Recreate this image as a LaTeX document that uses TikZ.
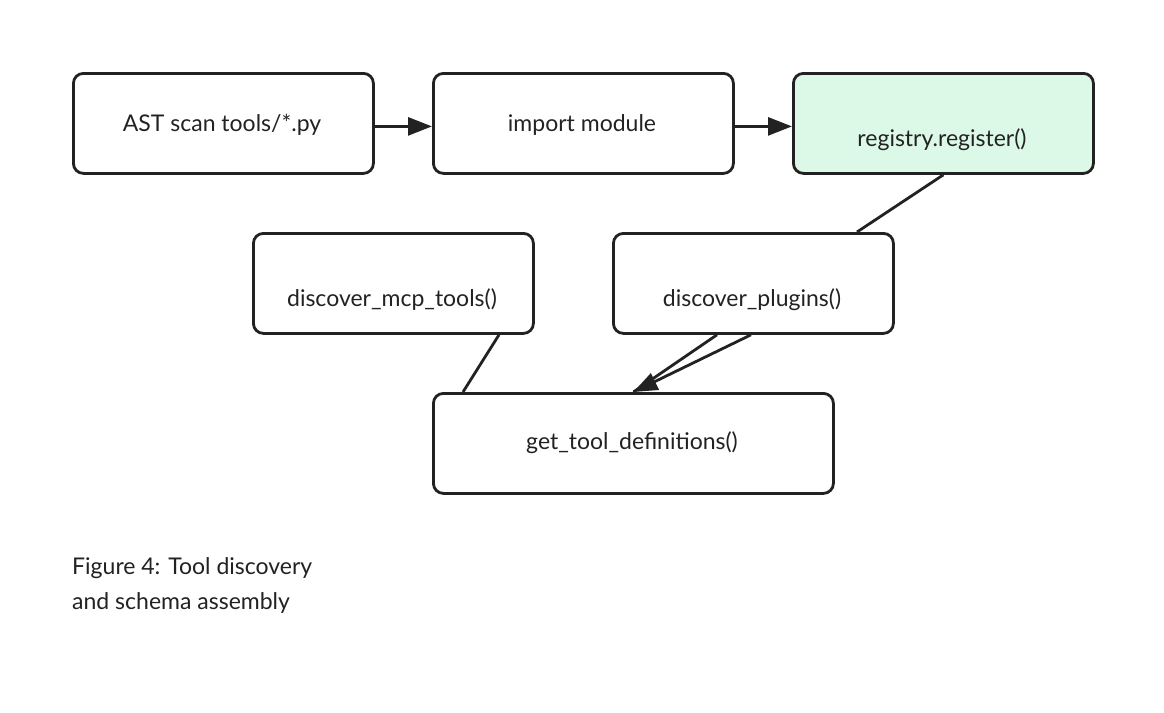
\documentclass[tikz,border=0pt]{standalone}
\usepackage{fontspec}
\setmainfont{Lato}
\usetikzlibrary{arrows.meta,calc}
\definecolor{edge}{HTML}{222222}
\definecolor{mint}{HTML}{DCF8E7}
\begin{document}
\begin{tikzpicture}[x=1pt,y=-1pt,
  box/.style={draw=edge,line width=2.8pt,rounded corners=10pt,minimum width=#1,minimum height=100pt,inner sep=0pt,anchor=north west},
  box/.default=300pt,
  lbl/.style={font=\fontsize{23}{27}\selectfont,text=edge,inner sep=0pt},
  conn/.style={draw=edge,line width=2.8pt},
  arr/.style={conn,-{Triangle[length=24pt,width=18pt]}}]
\useasboundingbox (0,0) rectangle (1164,712);
\node[box] (A) at (72,72) {};
\node[box] (B) at (432,72) {};
\node[box,fill=mint] (C) at (792,72) {};
\node[box=280pt] (D) at (252,232) {};
\node[box=280pt] (E) at (612,232) {};
\node[box=400pt] (F) at (432,392) {};
\node[lbl] (tA) at (222,125) {AST scan tools/*.py};
\node[lbl] (tB) at (582,125) {import module};
\node[lbl] (tC) at (942,140) {registry.register()};
\node[lbl] (tD) at (392,300) {discover\_mcp\_tools()};
\node[lbl] (tE) at (752,300) {discover\_plugins()};
\node[lbl] (tF) at (632,443) {get\_tool\_definitions()};
\draw[arr] ($(A.east)+(0,3)$) -- ($(B.west)+(0,3)$);
\draw[arr] ($(B.east)+(0,3)$) -- ($(C.west)+(0,3)$);
\draw[conn] (C.south) -- ($(E.north west)+(245,0)$);
\draw[conn] ($(D.south west)+(247,0)$) -- ($(F.north west)+(31,0)$);
\draw[conn] ($(E.south west)+(105,0)$) -- (F.north);
\draw[arr] ($(E.south west)+(139,0)$) -- (F.north);
\node[font=\fontsize{23}{35}\selectfont,text=edge,anchor=north west,align=left,inner sep=0pt] (cap) at (72,557) {Figure 4: Tool discovery\\and schema assembly};
\end{tikzpicture}
\end{document}
